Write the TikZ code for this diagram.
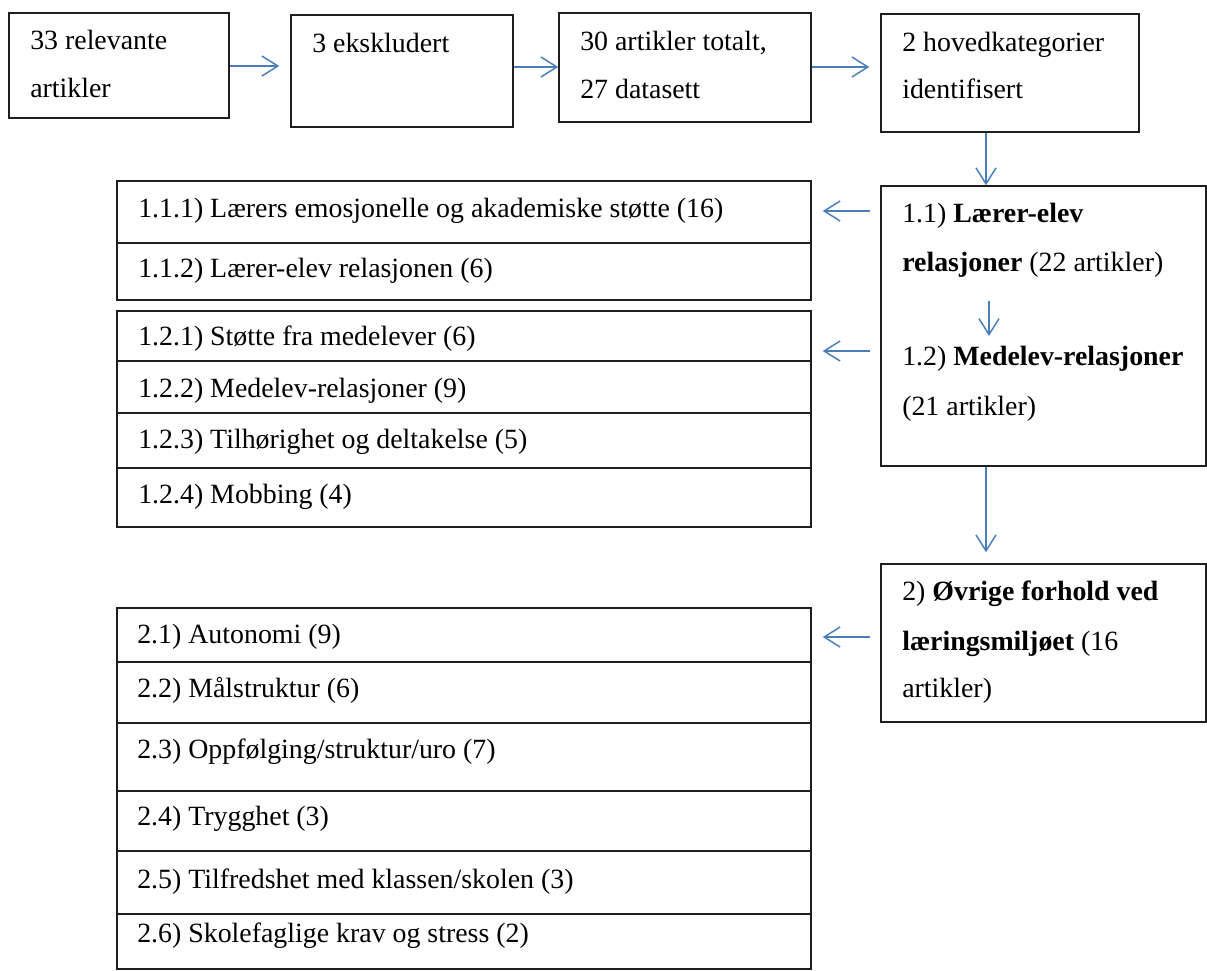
\documentclass[tikz,border=0pt]{standalone}
\usepackage{fontspec}
\setmainfont{Liberation Serif}
\usetikzlibrary{arrows.meta,fit}
\definecolor{arrblue}{RGB}{74,126,187}
\definecolor{boxline}{RGB}{30,30,30}
\begin{document}
\begin{tikzpicture}[x=0.75pt,y=-0.75pt,
  box/.style={draw=boxline, line width=1.1pt, inner sep=0pt, rectangle},
  divline/.style={draw=boxline, line width=1.1pt},
  txt/.style={anchor=base west, inner sep=0pt, font=\fontsize{20.9}{21}\selectfont},
  arr/.style={draw=arrblue, line width=1.1pt, -{Straight Barb[length=12pt,width=15pt,line width=1.1pt]}}
]
\useasboundingbox (0,0) rectangle (1207,971);
\fill[white] (0,0) rectangle (1207,971);

% top row boxes
\node[box, fit={(9,13) (229,118)}] (b1) {};
\node[box, fit={(291,15) (513,127)}] (b2) {};
\node[box, fit={(559,13) (811,122)}] (b3) {};
\node[box, fit={(881,14) (1139,132)}] (b4) {};
% right column boxes
\node[box, fit={(881,186) (1206,466)}] (b5) {};
\node[box, fit={(881,564) (1206,722)}] (b6) {};
% left groups
\node[box, fit={(117,181) (811,300)}] (g1) {};
\node[box, fit={(117,311) (811,527)}] (g2) {};
\node[box, fit={(117,608) (811,969)}] (g3) {};

% dividers
\draw[divline] (g1.west |- 0,243) -- (g1.east |- 0,243);
\draw[divline] (g2.west |- 0,361) -- (g2.east |- 0,361);
\draw[divline] (g2.west |- 0,413) -- (g2.east |- 0,413);
\draw[divline] (g2.west |- 0,468) -- (g2.east |- 0,468);
\draw[divline] (g3.west |- 0,662) -- (g3.east |- 0,662);
\draw[divline] (g3.west |- 0,723) -- (g3.east |- 0,723);
\draw[divline] (g3.west |- 0,791) -- (g3.east |- 0,791);
\draw[divline] (g3.west |- 0,851) -- (g3.east |- 0,851);
\draw[divline] (g3.west |- 0,914) -- (g3.east |- 0,914);

% texts top row
\node[txt] (t1a) at (30,49) {33 relevante};
\node[txt] (t1b) at (30,97) {artikler};
\node[txt] (t2a) at (312,52) {3 ekskludert};
\node[txt] (t3a) at (580,50) {30 artikler totalt,};
\node[txt] (t3b) at (580,98) {27 datasett};
\node[txt] (t4a) at (902,51) {2 hovedkategorier};
\node[txt] (t4b) at (902,98) {identifisert};

% texts right column
\node[txt] (t5a) at (902,222) {1.1) \textbf{Lærer-elev}};
\node[txt] (t5b) at (902,271) {\textbf{relasjoner} (22 artikler)};
\node[txt] (t5c) at (902,365) {1.2) \textbf{Medelev-relasjoner}};
\node[txt] (t5d) at (902,415) {(21 artikler)};
\node[txt] (t6a) at (902,600) {2) \textbf{Øvrige forhold ved}};
\node[txt] (t6b) at (902,650) {\textbf{læringsmiljøet} (16};
\node[txt] (t6c) at (902,697) {artikler)};

% texts left groups
\node[txt] (s111) at (138,217) {1.1.1) Lærers emosjonelle og akademiske støtte (16)};
\node[txt] (s112) at (138,277) {1.1.2) Lærer-elev relasjonen (6)};
\node[txt] (s121) at (138,345) {1.2.1) Støtte fra medelever (6)};
\node[txt] (s122) at (138,397) {1.2.2) Medelev-relasjoner (9)};
\node[txt] (s123) at (138,448) {1.2.3) Tilhørighet og deltakelse (5)};
\node[txt] (s124) at (138,503) {1.2.4) Mobbing (4)};
\node[txt] (s21) at (137,643) {2.1) Autonomi (9)};
\node[txt] (s22) at (137,697) {2.2) Målstruktur (6)};
\node[txt] (s23) at (137,758) {2.3) Oppfølging/struktur/uro (7)};
\node[txt] (s24) at (137,825) {2.4) Trygghet (3)};
\node[txt] (s25) at (137,888) {2.5) Tilfredshet med klassen/skolen (3)};
\node[txt] (s26) at (137,942) {2.6) Skolefaglige krav og stress (2)};

% helper coordinates
\coordinate (ya) at (0,66);
\coordinate (yb) at (0,67);
\coordinate (xd) at (986,0);
\coordinate (ia) at (989,301);
\coordinate (ib) at (989,336);
\coordinate (y1) at (0,211);
\coordinate (y2) at (0,351);
\coordinate (y3) at (0,637);

% connectors
\draw[arr, shorten >=8.25pt] (b1.east |- ya) -- (b2.west |- ya);
\draw[arr] (b2.east |- yb) -- (b3.west |- yb);
\draw[arr, shorten >=8.25pt] (b3.east |- yb) -- (b4.west |- yb);
\draw[arr] (b4.south -| xd) -- (b5.north -| xd);
\draw[arr] (ia) -- (ib);
\draw[arr, shorten >=8.25pt] (b5.south -| xd) -- (b6.north -| xd);
\draw[arr, shorten <=7.5pt, shorten >=8.25pt] (b5.west |- y1) -- (g1.east |- y1);
\draw[arr, shorten <=7.5pt, shorten >=8.25pt] (b5.west |- y2) -- (g2.east |- y2);
\draw[arr, shorten <=7.5pt, shorten >=8.25pt] (b6.west |- y3) -- (g3.east |- y3);
\end{tikzpicture}
\end{document}
